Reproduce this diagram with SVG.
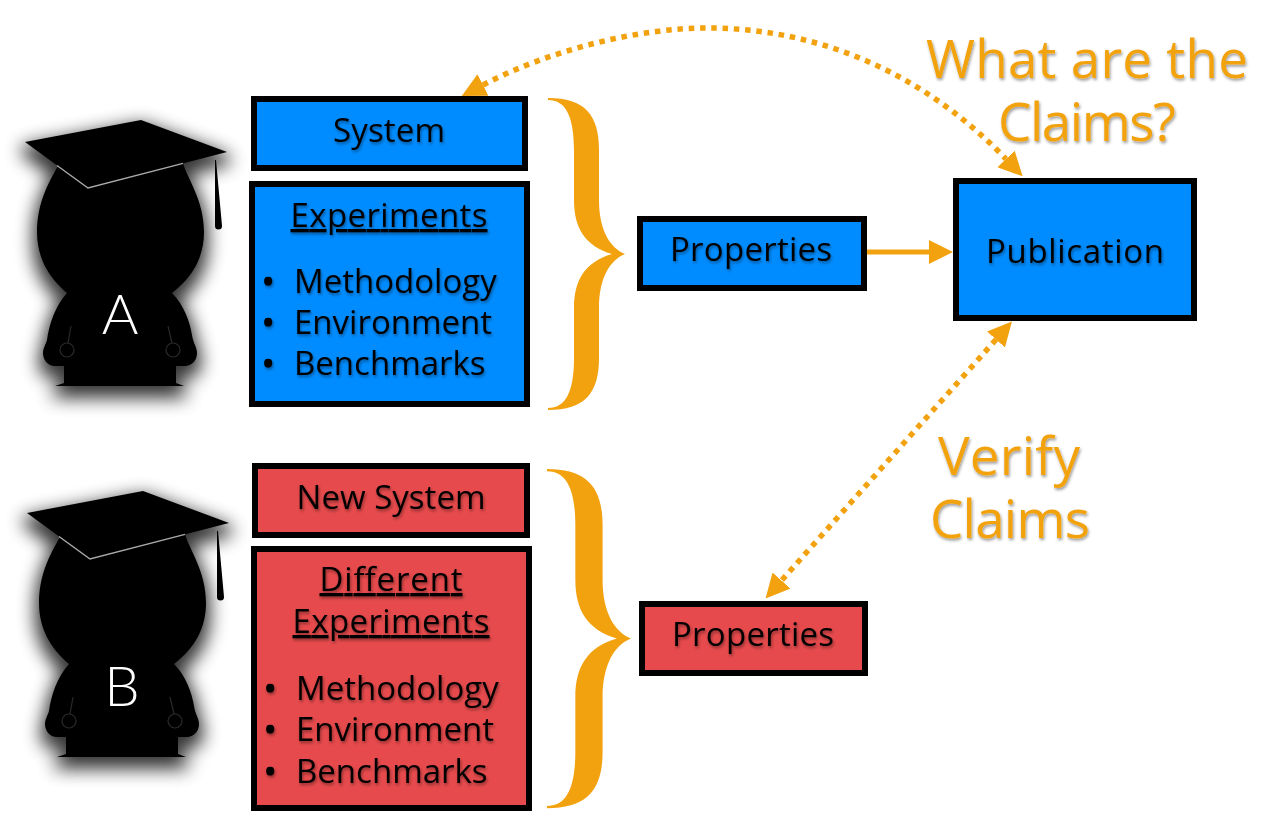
<svg xmlns="http://www.w3.org/2000/svg" width="1280" height="827" viewBox="0 0 1280 827">
<style>
text{font-family:"Open Sans","Noto Sans",sans-serif}
.box{stroke:#000;stroke-width:6}
.blue{fill:#008cff}
.red{fill:#e64a4c}
.t{font-size:33px;fill:#000;text-anchor:middle;filter:url(#ts)}
.l{font-size:33px;fill:#000;filter:url(#ts)}
.b{stroke:#000;stroke-width:1.2}
.o{font-size:53px;fill:#f2a20f;text-anchor:middle;filter:url(#ts)}
.big{font-family:Lato,sans-serif;font-weight:300;font-size:56px;fill:#fff;text-anchor:middle}
.dot{fill:none;stroke:#f2a20f;stroke-width:5.5;stroke-dasharray:5.5 5.8}
.brace{fill:#f2a20f}
</style>
<defs>
<filter id="ts" x="-10%" y="-10%" width="120%" height="130%"><feDropShadow dx="1" dy="2" stdDeviation="1.5" flood-color="#000" flood-opacity=".4"/></filter>
<filter id="ps" x="-40%" y="-30%" width="180%" height="170%" color-interpolation-filters="sRGB">
<feMorphology in="SourceAlpha" operator="dilate" radius="4" result="d"/>
<feGaussianBlur in="d" stdDeviation="9" result="bl"/>
<feOffset in="bl" dy="8" result="of"/>
<feComponentTransfer in="of" result="sh"><feFuncA type="linear" slope=".8"/></feComponentTransfer>
<feMerge><feMergeNode in="sh"/><feMergeNode in="SourceGraphic"/></feMerge>
</filter>
<marker id="ah" markerUnits="userSpaceOnUse" markerWidth="24" markerHeight="24" refX="0" refY="12" orient="auto-start-reverse" viewBox="0 0 24 24"><path d="M0 0L24 12L0 24Z" fill="#f2a20f"/></marker>
<g id="person">
<g filter="url(#ps)">
<path d="M67 293C48 277 37 257 37 232C37 205 47 185 58 166L183 163C187 178 204 200 204 232C204 257 193 277 172 293C184 305 190 322 192 335C193 343 197 347 197 353C197 361 191 366 185 366L176 366L176 383L184 386L55 386L64 383L64 366L55 366C48 366 43 360 43 353C43 348 46 344 47 340C49 325 55 306 67 293Z" fill="#000"/>
<path d="M25 142L141 120L227 152L88 188Z" fill="#000"/>
</g>
<path d="M57 165.5L88 188L183 163.4" fill="none" stroke="#aaa" stroke-width="1.4"/>
<path d="M215 160L216 160L222 226A3.5 3.5 0 0 1 215 226Z" fill="#000"/>
<g fill="none" stroke="#2a2a2a" stroke-width="1.2">
<path d="M71 326L68 343"/><circle cx="67" cy="350" r="7"/>
<path d="M168 326L172 343"/><circle cx="173" cy="350" r="7"/>
</g>
</g>
<path id="br" class="brace" d="M548 98C585 98 599 115 599 150L599 200C599 230 610 248 625 254C610 260 599 278 599 308L599 358C599 393 585 410 548 410L548 408C565 408 574 393 574 358L574 308C574 280 585 262 612 254C585 246 574 228 574 200L574 150C574 115 565 100 548 100Z"/>
</defs>

<g id="person-a"><use href="#person"/><text class="big" x="120" y="334">A</text></g>
<g id="person-b"><use href="#person" x="2" y="371"/><text class="big" x="122" y="706">B</text></g>

<g id="system"><rect class="box blue" x="254" y="99" width="271" height="69"/><text class="t" x="389" y="142" textLength="112">System</text></g>
<g id="experiments"><rect class="box blue" x="252" y="184" width="275" height="220"/>
<text class="t" x="389" y="227" textLength="197" text-decoration="underline">Experiments</text>
<text class="l" y="293"><tspan class="b" x="262">•</tspan><tspan x="294">Methodology</tspan></text>
<text class="l" y="334"><tspan class="b" x="262">•</tspan><tspan x="294">Environment</tspan></text>
<text class="l" y="375"><tspan class="b" x="262">•</tspan><tspan x="294">Benchmarks</tspan></text></g>
<g id="properties-a"><rect class="box blue" x="640" y="219" width="224" height="69"/><text class="t" x="751" y="261" textLength="162">Properties</text></g>
<g id="publication"><rect class="box blue" x="956" y="181" width="238" height="137"/><text class="t" x="1075" y="263" textLength="178">Publication</text></g>

<g id="new-system"><rect class="box red" x="255" y="466" width="272" height="69"/><text class="t" x="391" y="509" textLength="189">New System</text></g>
<g id="different-experiments"><rect class="box red" x="254" y="549" width="275" height="259"/>
<text class="t" x="391" y="591" textLength="143" text-decoration="underline">Different</text>
<text class="t" x="391" y="633" textLength="197" text-decoration="underline">Experiments</text>
<text class="l" y="700"><tspan class="b" x="264">•</tspan><tspan x="296">Methodology</tspan></text>
<text class="l" y="741"><tspan class="b" x="264">•</tspan><tspan x="296">Environment</tspan></text>
<text class="l" y="783"><tspan class="b" x="264">•</tspan><tspan x="296">Benchmarks</tspan></text></g>
<g id="properties-b"><rect class="box red" x="642" y="604" width="223" height="69"/><text class="t" x="753" y="646" textLength="162">Properties</text></g>

<g id="connectors">
<path class="dot" d="M483 85C550 50 640 27 713 28C830 30 930 80 1006 159" marker-start="url(#ah)" marker-end="url(#ah)"/>
<path d="M867 252L929 252" stroke="#f2a20f" stroke-width="5" fill="none" marker-end="url(#ah)"/>
<path class="dot" d="M996 339.5L781.5 580.5" marker-start="url(#ah)" marker-end="url(#ah)"/>
</g>
<g id="braces">
<use href="#br"/>
<use href="#br" transform="translate(547 469) scale(1.09 1.087) translate(-548 -98)"/>
</g>
<g id="labels">
<text class="o"><tspan x="1087" y="78" textLength="322">What are the</tspan><tspan x="1087" y="141" textLength="178">Claims?</tspan></text>
<text class="o"><tspan x="1009" y="475" textLength="142">Verify</tspan><tspan x="1010" y="538" textLength="160">Claims</tspan></text>
</g>
</svg>
